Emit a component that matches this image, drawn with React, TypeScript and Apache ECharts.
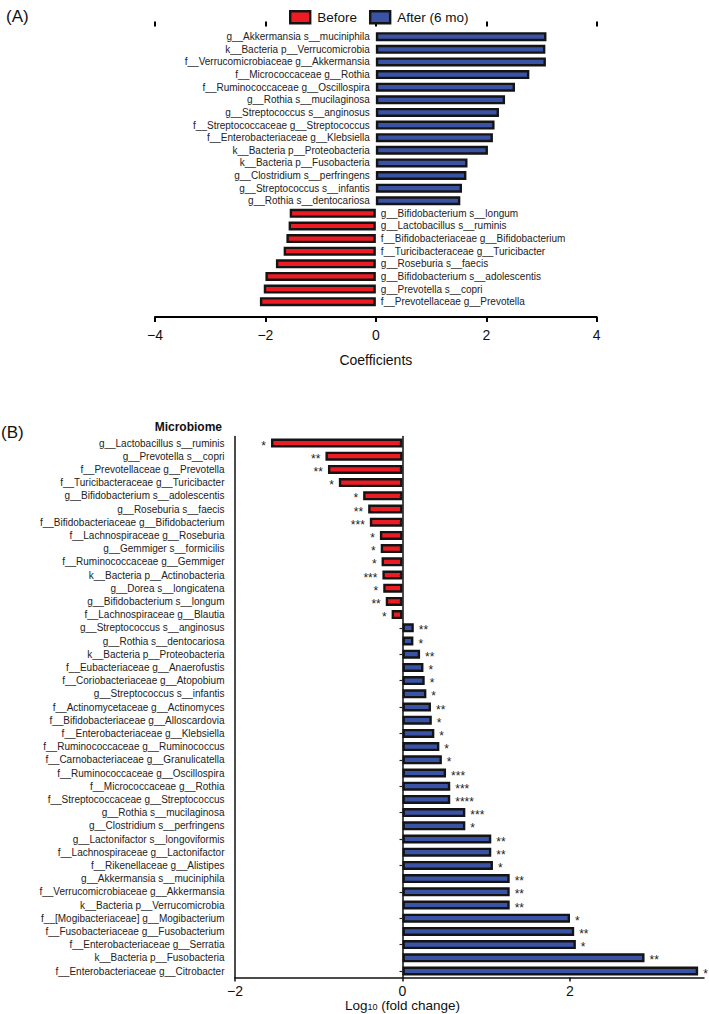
import React, { useEffect, useRef } from "react";
import * as echarts from "echarts";

// ---------- Panel A data ----------
const aCategories = [
  "g__Akkermansia s__muciniphila",
  "k__Bacteria p__Verrucomicrobia",
  "f__Verrucomicrobiaceae g__Akkermansia",
  "f__Micrococcaceae g__Rothia",
  "f__Ruminococcaceae g__Oscillospira",
  "g__Rothia s__mucilaginosa",
  "g__Streptococcus s__anginosus",
  "f__Streptococcaceae g__Streptococcus",
  "f__Enterobacteriaceae g__Klebsiella",
  "k__Bacteria p__Proteobacteria",
  "k__Bacteria p__Fusobacteria",
  "g__Clostridium s__perfringens",
  "g__Streptococcus s__infantis",
  "g__Rothia s__dentocariosa",
  "g__Bifidobacterium s__longum",
  "g__Lactobacillus s__ruminis",
  "f__Bifidobacteriaceae g__Bifidobacterium",
  "f__Turicibacteraceae g__Turicibacter",
  "g__Roseburia s__faecis",
  "g__Bifidobacterium s__adolescentis",
  "g__Prevotella s__copri",
  "f__Prevotellaceae g__Prevotella",
];
const aCoefficients = [
  3.09, 3.07, 3.08, 2.78, 2.52, 2.34, 2.23, 2.15, 2.12, 2.03, 1.66, 1.64, 1.56, 1.53,
  -1.56, -1.58, -1.62, -1.67, -1.81, -2.0, -2.03, -2.1,
];

// ---------- Panel B data ----------
const bCategories = [
  "g__Lactobacillus s__ruminis",
  "g__Prevotella s__copri",
  "f__Prevotellaceae g__Prevotella",
  "f__Turicibacteraceae g__Turicibacter",
  "g__Bifidobacterium s__adolescentis",
  "g__Roseburia s__faecis",
  "f__Bifidobacteriaceae g__Bifidobacterium",
  "f__Lachnospiraceae g__Roseburia",
  "g__Gemmiger s__formicilis",
  "f__Ruminococcaceae g__Gemmiger",
  "k__Bacteria p__Actinobacteria",
  "g__Dorea s__longicatena",
  "g__Bifidobacterium s__longum",
  "f__Lachnospiraceae g__Blautia",
  "g__Streptococcus s__anginosus",
  "g__Rothia s__dentocariosa",
  "k__Bacteria p__Proteobacteria",
  "f__Eubacteriaceae g__Anaerofustis",
  "f__Coriobacteriaceae g__Atopobium",
  "g__Streptococcus s__infantis",
  "f__Actinomycetaceae g__Actinomyces",
  "f__Bifidobacteriaceae g__Alloscardovia",
  "f__Enterobacteriaceae g__Klebsiella",
  "f__Ruminococcaceae g__Ruminococcus",
  "f__Carnobacteriaceae g__Granulicatella",
  "f__Ruminococcaceae g__Oscillospira",
  "f__Micrococcaceae g__Rothia",
  "f__Streptococcaceae g__Streptococcus",
  "g__Rothia s__mucilaginosa",
  "g__Clostridium s__perfringens",
  "g__Lactonifactor s__longoviformis",
  "f__Lachnospiraceae g__Lactonifactor",
  "f__Rikenellaceae g__Alistipes",
  "g__Akkermansia s__muciniphila",
  "f__Verrucomicrobiaceae g__Akkermansia",
  "k__Bacteria p__Verrucomicrobia",
  "f__[Mogibacteriaceae] g__Mogibacterium",
  "f__Fusobacteriaceae g__Fusobacterium",
  "f__Enterobacteriaceae g__Serratia",
  "k__Bacteria p__Fusobacteria",
  "f__Enterobacteriaceae g__Citrobacter",
];
const bFoldChange = [
  -1.57, -0.92, -0.89, -0.76, -0.47, -0.41, -0.39, -0.27, -0.26, -0.25, -0.24, -0.23, -0.2, -0.13,
  0.135, 0.13, 0.21, 0.25, 0.265, 0.285, 0.34, 0.35, 0.38, 0.44, 0.47, 0.52, 0.57, 0.57, 0.75, 0.75,
  1.06, 1.06, 1.08, 1.28, 1.28, 1.28, 2.0, 2.05, 2.07, 2.89, 3.53,
];
const bStars = [
  "*", "**", "**", "*", "*", "**", "***", "*", "*", "*", "***", "*", "**", "*",
  "**", "*", "**", "*", "*", "*", "**", "*", "*", "*", "*", "***", "***", "****", "***", "*",
  "**", "**", "*", "**", "**", "**", "*", "**", "*", "**", "*",
];
const bTicks = [-2, 0, 2];

const RED = "#ED1C24";
const BLUE = "#3A53A4";
const EDGE = "#141414";
const FONT = "'Liberation Sans', Arial, Helvetica, sans-serif";
const TXT = "#222";

const fmtMinus = (v: number) => (v < 0 ? "\u2212" + Math.abs(v) : String(v));

export default function App() {
  const ref = useRef<HTMLDivElement>(null);
  useEffect(() => {
    if (!ref.current) return;
    const chart = echarts.init(ref.current, undefined, { renderer: "svg" });
    const barStyle = (c: string) => ({ color: c, borderColor: EDGE, borderWidth: 2.4 });
    const starLabel = (position: string) => ({
      show: true,
      position,
      distance: 5,
      fontSize: 12,
      color: "#222",
      offset: [0, 2.5],
      formatter: (p: any) => bStars[p.dataIndex],
    });

    chart.setOption({
      animation: false,
      textStyle: { fontFamily: FONT },
      legend: {
        left: 289,
        top: 10,
        padding: 0,
        itemWidth: 20,
        itemHeight: 12,
        itemGap: 12,
        icon: "rect",
        textStyle: { fontSize: 13.5, color: "#111", fontFamily: FONT, padding: [0, 0, 0, 2] },
        data: [
          { name: "Before", itemStyle: barStyle(RED) },
          { name: "After (6 mo)", itemStyle: barStyle(BLUE) },
        ],
        selectedMode: false,
      },
      grid: [
        { left: 155, right: 112.3, top: 30.4, height: 277.6 },
        { left: 235, right: 5, top: 436.4, height: 541.2 },
      ],
      xAxis: [
        {
          gridIndex: 0,
          type: "value",
          min: -4,
          max: 4,
          interval: 2,
          offset: 9,
          splitLine: { show: false },
          axisLine: { show: true, lineStyle: { color: "#000", width: 2 } },
          axisTick: { show: true, length: 5, lineStyle: { color: "#000", width: 2 } },
          axisLabel: { fontSize: 14, color: "#111", margin: 11, formatter: fmtMinus },
          name: "Coefficients",
          nameLocation: "middle",
          nameGap: 36,
          nameTextStyle: { fontSize: 14, color: "#111" },
        },
        {
          gridIndex: 0,
          type: "value",
          min: -4,
          max: 4,
          interval: 2,
          offset: 9,
          splitLine: { show: false },
          axisLine: { show: false },
          axisTick: { show: true, inside: true, length: 5, lineStyle: { color: "#000", width: 2 } },
          axisLabel: { show: false },
        },
        {
          gridIndex: 1,
          type: "value",
          min: -2,
          max: 3.6,
          splitLine: { show: false },
          axisLine: { show: true, lineStyle: { color: "#111", width: 1.5 } },
          axisTick: {
            show: true,
            length: 4,
            customValues: bTicks,
            lineStyle: { color: "#111", width: 1.5 },
          },
          axisLabel: {
            fontSize: 14,
            color: "#111",
            margin: 6,
            customValues: bTicks,
            formatter: fmtMinus,
          },
        },
      ],
      yAxis: [
        {
          gridIndex: 0,
          type: "category",
          inverse: true,
          data: aCategories,
          show: false,
        },
        {
          gridIndex: 1,
          type: "category",
          inverse: true,
          position: "left",
          data: bCategories,
          axisLine: { show: true, onZero: false, lineStyle: { color: "#111", width: 1.5 } },
          axisTick: { show: false },
          axisLabel: { fontSize: 10, color: TXT, margin: 10.5 },
        },
        {
          gridIndex: 1,
          type: "category",
          inverse: true,
          position: "left",
          data: bCategories,
          z: 5,
          axisLine: { show: true, onZero: true, lineStyle: { color: "#111", width: 1.5 } },
          axisTick: { show: true, alignWithLabel: true, length: 3, lineStyle: { color: "#222", width: 1.2 } },
          axisLabel: { show: false },
        },
      ],
      series: [
        {
          name: "Before",
          type: "bar",
          xAxisIndex: 0,
          yAxisIndex: 0,
          barWidth: 9,
          barGap: "-100%",
          itemStyle: barStyle(RED),
          label: { show: true, position: "right", distance: 5, formatter: "{b}", fontSize: 10, color: TXT },
          data: aCoefficients.map((v) => (v < 0 ? v : "-")),
        },
        {
          name: "After (6 mo)",
          type: "bar",
          xAxisIndex: 0,
          yAxisIndex: 0,
          barWidth: 9,
          barGap: "-100%",
          itemStyle: barStyle(BLUE),
          label: { show: true, position: "left", distance: 6, formatter: "{b}", fontSize: 10, color: TXT },
          data: aCoefficients.map((v) => (v > 0 ? v : "-")),
        },
        {
          name: "Decreased",
          type: "bar",
          xAxisIndex: 2,
          yAxisIndex: 1,
          barWidth: 9,
          barGap: "-100%",
          itemStyle: barStyle(RED),
          label: starLabel("left"),
          data: bFoldChange.map((v) => (v < 0 ? v : "-")),
        },
        {
          name: "Increased",
          type: "bar",
          xAxisIndex: 2,
          yAxisIndex: 1,
          barWidth: 9,
          barGap: "-100%",
          itemStyle: barStyle(BLUE),
          label: starLabel("right"),
          data: bFoldChange.map((v) => (v > 0 ? v : "-")),
        },
      ],
      graphic: [
        {
          type: "text",
          x: 6,
          y: 16,
          style: { text: "(A)", fontSize: 17, fontFamily: FONT, fill: "#111", align: "left", verticalAlign: "middle" },
        },
        {
          type: "text",
          x: 1,
          y: 432,
          style: { text: "(B)", fontSize: 17, fontFamily: FONT, fill: "#111", align: "left", verticalAlign: "middle" },
        },
        {
          type: "text",
          x: 222,
          y: 427,
          style: {
            text: "Microbiome",
            fontSize: 12,
            fontWeight: "bold",
            fontFamily: FONT,
            fill: "#111",
            align: "right",
            verticalAlign: "middle",
          },
        },
        {
          type: "text",
          x: 402.5,
          y: 1005,
          style: {
            text: "{a|Log}{b|10}{a| (fold change)}",
            align: "center",
            verticalAlign: "middle",
            fontFamily: FONT,
            fill: "#111",
            rich: {
              a: { fontSize: 13.5, lineHeight: 13, fontFamily: FONT, fill: "#111" },
              b: { fontSize: 9, lineHeight: 13, verticalAlign: "bottom", fontFamily: FONT, fill: "#111" },
            },
          },
        },
      ],
    });
    return () => chart.dispose();
  }, []);
  return (
    <div
      ref={ref}
      style={{ position: "absolute", left: 0, top: 0, width: 709, height: 1014, background: "#fff" }}
    />
  );
}
